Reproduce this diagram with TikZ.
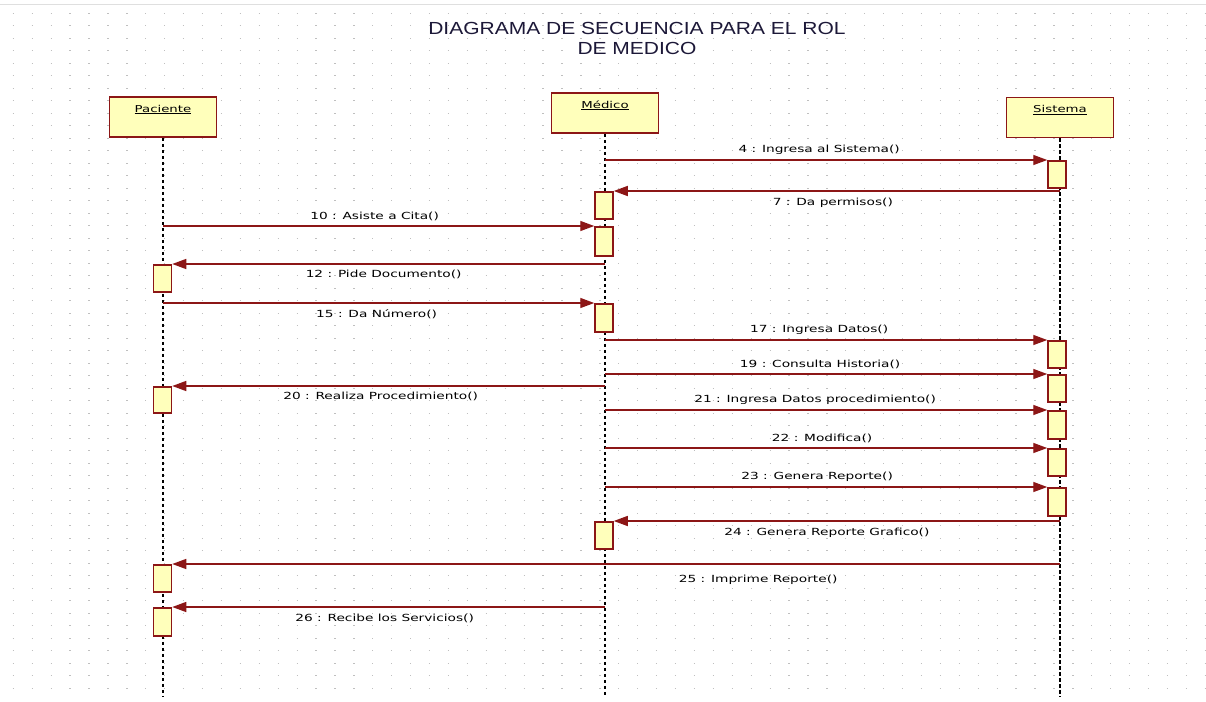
\documentclass[tikz,border=0pt]{standalone}
\usepackage{fontspec}
\setmainfont{Liberation Sans}
\newfontfamily\msgfont{DejaVu Sans}[FakeStretch=1.4]
\newfontfamily\titlefont{Liberation Sans}[FakeStretch=1.2]
\usepackage{tikz}
\usetikzlibrary{arrows.meta,positioning}

\definecolor{umlred}{RGB}{140,22,22}
\definecolor{umlfill}{RGB}{255,255,187}
\definecolor{titleblue}{RGB}{28,24,56}

\begin{document}
\begin{tikzpicture}[
  x=1pt, y=-1pt,
  actor/.style={draw=umlred, line width=1.8pt, fill=umlfill, minimum width=107pt,
    text height=11pt, text depth=21pt, inner sep=4pt, font=\msgfont\fontsize{9.5}{11}\selectfont},
  act/.style={draw=umlred, line width=1.5pt, fill=umlfill, minimum width=18pt, inner sep=0pt, anchor=north},
  lifeline/.style={line width=2.4pt, dash pattern=on 3.5pt off 2.5pt},
  msg/.style={draw=umlred, line width=1.4pt, -{Triangle[length=14pt,width=10pt]}},
  lbl/.style={font=\msgfont\fontsize{9.8}{11}\selectfont, inner sep=2pt}
]
  % page and dotted grid
  \fill[white] (0,0) rectangle (1206,701);
  \useasboundingbox (0,0) rectangle (1206,701);
  \draw[gray!25] (0,4) -- (1206,4);
  \foreach \r in {0,...,54}
    \draw[gray!50, line width=1.3pt, dash pattern=on 1.3pt off 17.62pt] (12.7,13.3+12.5*\r) -- (1206,13.3+12.5*\r);

  % title
  \node[font=\titlefont\fontsize{17.5}{20}\selectfont, text=titleblue, align=center] (title) at (637,38)
    {DIAGRAMA DE SECUENCIA PARA EL ROL\\DE MEDICO};

  % objects
  \node[actor] (pac) at (163,117) {\underline{Paciente}};
  \node[actor] (med) at (605,113) {\underline{Médico}};
  \node[actor] (sis) at (1060,117.5) {\underline{Sistema}};

  \coordinate (pacend) at (163,697);
  \coordinate (medend) at (605,697);
  \coordinate (sisend) at (1060,697);
  \draw[lifeline] (pac) -- (pacend);
  \draw[lifeline] (med) -- (medend);
  \draw[lifeline] (sis) -- (sisend);

  % activations
  \node[act, minimum height=27pt] (a1) at (1057,160) {};
  \node[act, minimum height=27pt] (a2) at (604,191) {};
  \node[act, minimum height=29pt] (a3) at (604,226) {};
  \node[act, minimum height=27pt] (a4) at (162.5,264) {};
  \node[act, minimum height=28pt] (a5) at (604,303) {};
  \node[act, minimum height=27pt] (a6) at (1057,340) {};
  \node[act, minimum height=27pt] (a7) at (1057,374) {};
  \node[act, minimum height=26pt] (a8) at (162.5,386) {};
  \node[act, minimum height=28pt] (a9) at (1057,410) {};
  \node[act, minimum height=27pt] (a10) at (1057,448) {};
  \node[act, minimum height=28pt] (a11) at (1057,487) {};
  \node[act, minimum height=27pt] (a12) at (604,521) {};
  \node[act, minimum height=27pt] (a13) at (162.5,564) {};
  \node[act, minimum height=28pt] (a14) at (162.5,607) {};

  % messages
  \draw[msg] (a1.north west -| med) -- node[lbl, above=3pt, xshift=-7pt] {4 : Ingresa al Sistema()} (a1.north west);
  \draw[msg] (a2.north east -| sis) -- node[lbl, below=4pt, xshift=-4pt] {7 : Da permisos()} (a2.north east);
  \draw[msg] (a3.north west -| pac) -- node[lbl, above=3pt, xshift=-4pt] {10 : Asiste a Cita()} (a3.north west);
  \draw[msg] (a4.north east -| med) -- node[lbl, below=3pt, xshift=-5pt] {12 : Pide Documento()} (a4.north east);
  \draw[msg] (a5.north west -| pac) -- node[lbl, below=4pt, xshift=-2pt] {15 : Da Número()} (a5.north west);
  \draw[msg] (a6.north west -| med) -- node[lbl, above=3pt, xshift=-7pt] {17 : Ingresa Datos()} (a6.north west);
  \draw[msg] (a7.north west -| med) -- node[lbl, above=3pt, xshift=-6pt] {19 : Consulta Historia()} (a7.north west);
  \draw[msg] (a8.north east -| med) -- node[lbl, below=3pt, xshift=-8pt] {20 : Realiza Procedimiento()} (a8.north east);
  \draw[msg] (a9.north west -| med) -- node[lbl, above=3pt, xshift=-11pt] {21 : Ingresa Datos procedimiento()} (a9.north west);
  \draw[msg] (a10.north west -| med) -- node[lbl, above=3pt, xshift=-4pt] {22 : Modifica()} (a10.north west);
  \draw[msg] (a11.north west -| med) -- node[lbl, above=3pt, xshift=-9pt] {23 : Genera Reporte()} (a11.north west);
  \draw[msg] (a12.north east -| sis) -- node[lbl, below=4pt, xshift=-10pt] {24 : Genera Reporte Grafico()} (a12.north east);
  \draw[msg] (a13.north east -| sis) -- node[lbl, below=8pt, pos=0.34] {25 : Imprime Reporte()} (a13.north east);
  \draw[msg] (a14.north east -| med) -- node[lbl, below=4pt, xshift=-4pt] {26 : Recibe los Servicios()} (a14.north east);
\end{tikzpicture}
\end{document}
